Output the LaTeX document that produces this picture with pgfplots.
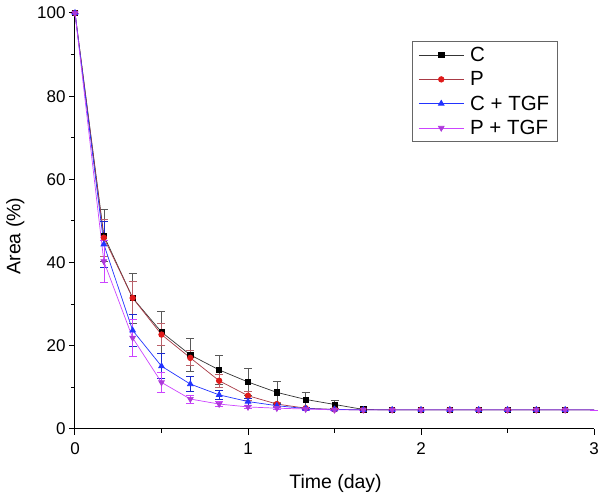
\documentclass[border=0pt]{standalone}
\usepackage{pgfplots}
\pgfplotsset{compat=1.18}
\usepackage{pgfplotstable}
\usepackage{fontspec}
\setmainfont{Liberation Sans}
\definecolor{cC}{HTML}{111111}
\definecolor{cP}{HTML}{E01A1A}
\definecolor{lP}{HTML}{A83A45}
\definecolor{cCT}{HTML}{2233FF}
\definecolor{cPT}{HTML}{CC44FF}
\pgfplotstableread{
x c ce p pe ct cte pt pte
0 100 0 100 0 100 0 100 0
0.1667 46.5 6.2 46.0 4.5 44.4 5.5 40.3 5.0
0.3333 31.5 6.0 31.5 4.0 23.7 3.8 21.9 4.4
0.5 23.3 5.0 22.7 2.7 15.1 3.0 11.2 2.4
0.6667 17.8 3.9 17.1 1.8 10.8 1.8 7.2 1.0
0.8333 14.2 3.5 11.6 1.5 8.2 1.0 6.0 0.6
1 11.3 3.2 8.0 1.0 6.6 0.8 5.3 0.4
1.1667 8.8 2.6 6.0 0.5 5.6 0.4 5.0 0.3
1.3333 7.1 1.8 5.0 0.3 4.9 0.2 4.8 0.2
1.5 5.9 1.0 4.7 0.2 4.7 0.1 4.6 0.1
1.6667 4.7 0.3 4.6 0 4.6 0 4.6 0
1.8333 4.6 0 4.6 0 4.6 0 4.6 0
2 4.6 0 4.6 0 4.6 0 4.6 0
2.1667 4.6 0 4.6 0 4.6 0 4.6 0
2.3333 4.6 0 4.6 0 4.6 0 4.6 0
2.5 4.6 0 4.6 0 4.6 0 4.6 0
2.6667 4.6 0 4.6 0 4.6 0 4.6 0
2.8333 4.6 0 4.6 0 4.6 0 4.6 0
3 4.6 0 4.6 0 4.6 0 4.6 0
}\data
\begin{document}
\begin{tikzpicture}
\path[use as bounding box] (-75pt,-66pt) rectangle (525pt,429pt);
\begin{axis}[
  at={(0pt,0pt)}, anchor=origin,
  scale only axis, width=519pt, height=416pt,
  xmin=0, xmax=3, ymin=0, ymax=100,
  axis x line*=bottom, axis y line*=left,
  axis line style={-, line width=1pt},
  xtick={0,1,2,3}, minor xtick={0.5,1.5,2.5},
  ytick={0,20,40,60,80,100}, minor ytick={10,30,50,70,90},
  tick align=outside,
  major tick length=6pt, minor tick length=4pt,
  every tick/.style={black, line width=1pt},
  tick label style={font=\fontsize{17}{19}\selectfont},
  xticklabel style={yshift=-4pt},
  /pgf/number format/assume math mode=true,
  xlabel={Time (day)}, ylabel={Area (\%)},
  label style={font=\fontsize{19.5}{22}\selectfont},
  xlabel style={at={(axis description cs:0.502,-0.13)}, anchor=center},
  ylabel style={at={(axis description cs:-0.115,0.464)}, anchor=center},
  clip=false,
  legend style={at={(axis cs:2.79,93.3)}, anchor=north east, draw=gray!80!black, line width=0.8pt,
    font=\fontsize{20.5}{22}\selectfont, row sep=4.5pt, inner ysep=4pt, inner xsep=6pt},
  legend cell align=left,
  legend image code/.code={\draw[#1] (0pt,0pt) -- (45pt,0pt); \draw[#1, only marks] plot coordinates {(22.5pt,0pt)}; \path (49pt,0pt);},
  error bars/y dir=both, error bars/y explicit,
  error bars/error mark options={rotate=90, mark size=4pt, line width=0.6pt},
  mark indices={1,...,18},
]
\addplot[color=cC!85, line width=0.7pt, mark=square*, mark size=2.6pt, mark options={fill=black, draw=black},
  error bars/error bar style={color=gray!70!black, line width=0.6pt}]
  table[x=x, y=c, y error=ce] {\data};
\addlegendentry{C}
\addplot[color=lP, line width=0.7pt, mark=*, mark size=2.8pt, mark options={fill=cP, draw=cP},
  error bars/error bar style={color=lP!80, line width=0.6pt}]
  table[x=x, y=p, y error=pe] {\data};
\addlegendentry{P}
\addplot[color=cCT, line width=0.7pt, mark=triangle*, mark size=3.3pt, mark options={fill=cCT, draw=cCT},
  error bars/error bar style={color=cCT!80!black, line width=0.6pt}]
  table[x=x, y=ct, y error=cte] {\data};
\addlegendentry{C + TGF}
\addplot[color=cPT, line width=0.7pt, mark=triangle*, mark size=3.3pt, mark options={fill=cPT!85!black, draw=cPT!85!black, rotate=180},
  error bars/error bar style={color=cPT, line width=0.6pt}]
  table[x=x, y=pt, y error=pte] {\data};
\addlegendentry{P + TGF}
\end{axis}
\end{tikzpicture}
\end{document}
